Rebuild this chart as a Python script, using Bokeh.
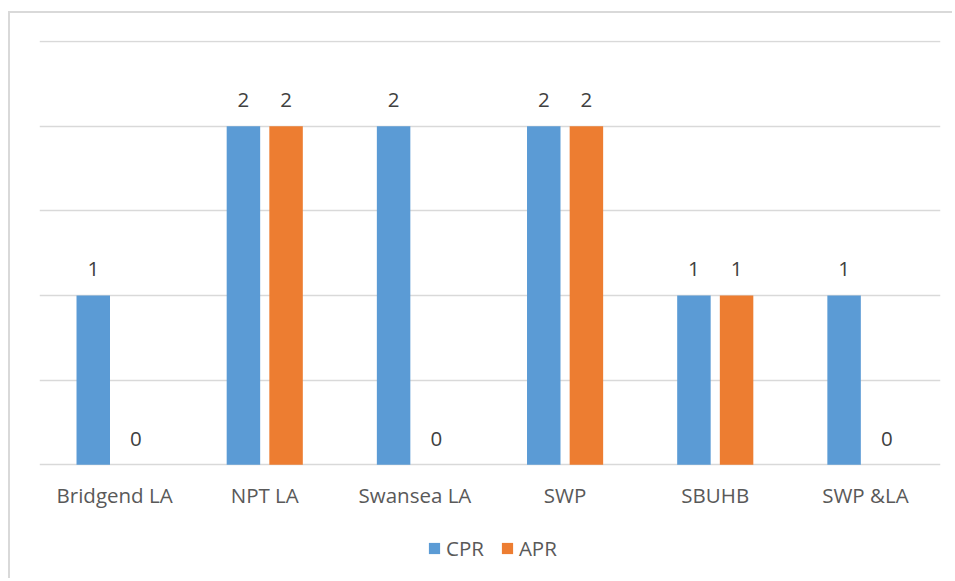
from bokeh.plotting import figure
from bokeh.models import ColumnDataSource, FactorRange, Range1d, FixedTicker, Legend, LegendItem
from bokeh.transform import dodge
from bokeh.core.properties import value
from bokeh.embed import file_html
from bokeh.resources import INLINE

categories = ["Bridgend LA", "NPT LA", "Swansea LA", "SWP", "SBUHB", "SWP &LA"]
cpr = [1, 2, 2, 2, 1, 1]
apr = [0, 2, 0, 2, 1, 0]
grid_ticks = [0, 0.5, 1, 1.5, 2, 2.5]

FONT = "Open Sans"
FS = "20.5px"
source = ColumnDataSource(dict(
    cat=categories, cpr=cpr, apr=apr, base=[0] * len(categories),
    cpr_txt=[str(v) for v in cpr], apr_txt=[str(v) for v in apr],
))

p = figure(x_range=FactorRange(*categories, range_padding=0), y_range=Range1d(-0.6833, 2.5059),
           width=944, height=567, output_backend="svg", toolbar_location=None,
           min_border_left=29, min_border_right=14, min_border_top=27, min_border_bottom=0,
           outline_line_color=None, background_fill_color="white", border_fill_color="white",
           styles={"border-top": "2px solid #d9d9d9", "border-left": "2px solid #d9d9d9",
                   "margin-left": "8px", "margin-top": "11px"})

off = 0.142
w = 0.223
r1 = p.vbar(x=dodge("cat", -off, range=p.x_range), top="cpr", width=w, source=source,
            fill_color="#5B9BD5", line_color=None)
r2 = p.vbar(x=dodge("cat", off, range=p.x_range), top="apr", width=w, source=source,
            fill_color="#ED7D31", line_color=None)

p.text(x=dodge("cat", -off, range=p.x_range), y="cpr", text="cpr_txt", source=source,
       text_align="center", text_baseline="alphabetic", y_offset=-26,
       text_font=value(FONT), text_font_size=FS, text_color="#404040")
p.text(x=dodge("cat", off, range=p.x_range), y="apr", text="apr_txt", source=source,
       text_align="center", text_baseline="alphabetic", y_offset=-26,
       text_font=value(FONT), text_font_size=FS, text_color="#404040")

# category labels under the baseline
p.text(x="cat", y="base", text="cat", source=source,
       text_align="center", text_baseline="alphabetic", y_offset=30,
       text_font=value(FONT), text_font_size=FS, text_color="#595959")

p.xgrid.visible = False
p.ygrid[0].ticker = FixedTicker(ticks=grid_ticks)
p.ygrid.grid_line_color = "#d9d9d9"
p.ygrid.grid_line_width = 1.5
p.yaxis.visible = False
p.xaxis.visible = False

legend = Legend(items=[LegendItem(label="CPR", renderers=[r1]), LegendItem(label="APR", renderers=[r2])],
                orientation="horizontal", location=(388, 18),
                glyph_width=14, glyph_height=14, label_standoff=5, spacing=16,
                label_text_font=FONT, label_text_font_size=FS, label_text_color="#595959",
                border_line_color=None, background_fill_alpha=0, margin=0, padding=0)
p.add_layout(legend, "center")

open("out.html", "w").write(file_html(p, INLINE))
